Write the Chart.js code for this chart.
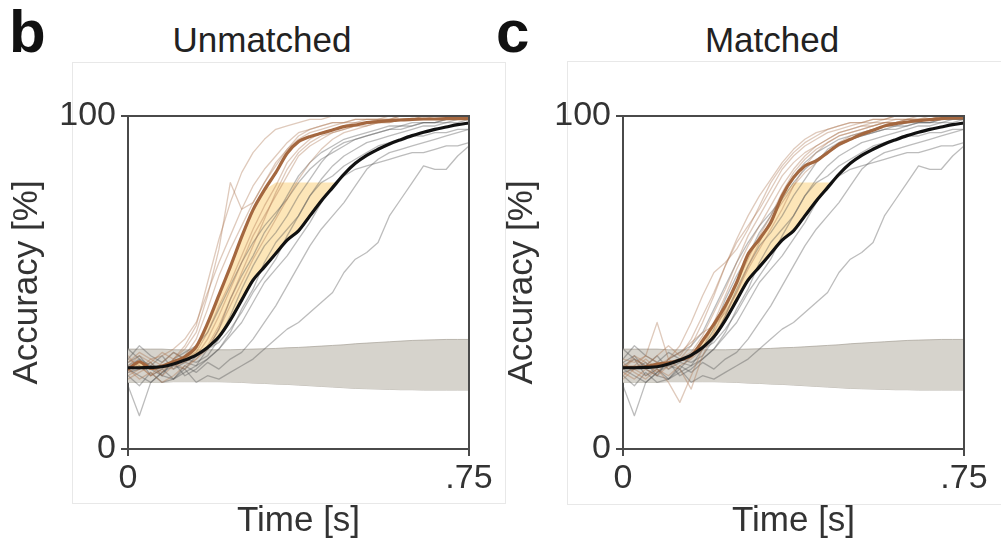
<!DOCTYPE html>
<html lang="en">
<head>
<meta charset="utf-8">
<title>Accuracy over time</title>
<script src="https://cdn.jsdelivr.net/npm/chart.js@4.4.1/dist/chart.umd.min.js"></script>
<style>
  body { margin: 0; background: #fff; width: 1001px; height: 542px; overflow: hidden; position: relative;
         font-family: "Liberation Sans", Arial, sans-serif; color: #222; }
  .frame { position: absolute; border: 1px solid #e8e8e8; }
  .letter { position: absolute; font-weight: bold; font-size: 60px; line-height: 1; color: #111; }
  .ptitle { position: absolute; font-size: 35px; line-height: 1; color: #222; transform: translateX(-50%); white-space: nowrap; }
  canvas { position: absolute; top: 0; }
</style>
</head>
<body>

<div class="frame" style="left:72px; top:62px; width:432px; height:440px;"></div>
<div class="frame" style="left:567px; top:61px; width:450px; height:442px;"></div>

<div class="letter" style="left:9px; top:2px;">b</div>
<div class="ptitle" style="left:262px; top:22px;">Unmatched</div>
<div class="letter" style="left:496px; top:2px;">c</div>
<div class="ptitle" style="left:772px; top:22px;">Matched</div>

<canvas id="chartB" width="500" height="542" style="left:0px;"></canvas>
<canvas id="chartC" width="506" height="542" style="left:495px;"></canvas>

<script>
// time axis, seconds
var time = [0, .025, .05, .075, .1, .125, .15, .175, .2, .225, .25, .275, .3, .325, .35, .375,
            .4, .425, .45, .475, .5, .525, .55, .575, .6, .625, .65, .675, .7, .725, .75];

var xTickValues = [0, 0.75];
var xTickLabels = ['0', '.75'];
var yTickValues = [0, 100];
var yellowCap = 80;

// model mean (black), same in both panels
var modelMean = [24.4, 24.4, 24.5, 24.7, 25.5, 26.7, 28.2, 30.5, 33.7, 38.7, 44.7, 50.7, 54.7, 58.7, 62.7, 65.5,
                 70, 74.5, 78.5, 82.5, 85.8, 88.2, 90, 91.6, 92.9, 94.1, 95.1, 96, 96.7, 97.4, 97.9];

// human means (brown)
var humanUnmatched = [24, 26.2, 24.2, 24.9, 26.2, 27.7, 30.7, 37.7, 46.2, 54.7, 63.7, 71.8, 77.8, 83, 88.8, 92.3,
                      93.8, 94.8, 95.8, 96.8, 97.3, 98, 98.3, 98.6, 98.8, 99, 99.1, 99.1, 99.2, 99.2, 99.2];
var humanMatched = [24.5, 24.5, 24.7, 25.5, 25.9, 26.7, 28, 32.5, 37.5, 43, 50, 58.5, 63, 68, 76, 81.5,
                    85, 86.5, 89, 91.5, 93, 94.5, 95.7, 97, 97.7, 98.2, 98.6, 98.9, 99.2, 99.4, 99.5];

// chance band
var bandTop = [30, 30, 30, 30, 29.8, 29.8, 29.8, 29.8, 29.8, 29.8, 29.9, 30, 30.1, 30.2, 30.4, 30.5,
               30.7, 30.9, 31.1, 31.3, 31.6, 31.8, 32, 32.2, 32.4, 32.6, 32.7, 32.8, 32.9, 32.9, 32.9];
var bandBottom = [20, 20, 20, 20, 20.2, 20.2, 20.2, 20.2, 20.2, 20.1, 20, 19.8, 19.7, 19.5, 19.4, 19.2,
                  19, 18.8, 18.6, 18.4, 18.2, 18.1, 18, 17.9, 17.8, 17.8, 17.7, 17.7, 17.7, 17.7, 17.7];

// single model runs (grey), same in both panels
var modelRun1 = [22, 19, 23, 20, 21, 24, 20, 22, 21, 23, 25, 27, 30, 33, 36, 38, 41, 44, 47, 53, 57, 59, 62, 70, 75, 80, 85, 84, 84, 88, 91];
var modelRun2 = [25, 27, 22, 24, 21, 25, 23, 26, 24, 27, 29, 33, 38, 43, 49, 55, 61, 66, 70, 74, 79, 84, 87, 89, 90, 91, 92, 93, 94, 95, 96];
var modelRun3 = [19, 10, 20, 23, 26, 22, 24, 27, 30, 35, 42, 48, 56, 62, 66, 70, 76, 81, 85, 88, 90, 92, 93, 94, 95, 96, 97, 97, 98, 98, 99];
var modelRun4 = [26, 28, 24, 22, 27, 29, 31, 35, 42, 49, 56, 62, 67, 71, 75, 80, 84, 87, 89, 91, 93, 94, 95, 96, 97, 97, 98, 98, 99, 99, 99];
var modelRun5 = [30, 27, 25, 28, 24, 26, 25, 30, 36, 45, 52, 58, 65, 70, 76, 82, 86, 89, 91, 93, 94, 95, 96, 97, 97, 98, 98, 98, 99, 99, 99];
var modelRun6 = [23, 24, 26, 22, 21, 23, 25, 27, 30, 34, 38, 44, 50, 54, 58, 63, 68, 74, 79, 82, 84, 85, 86, 87, 88, 89, 89, 90, 91, 91, 92];
var modelRun7 = [24, 22, 20, 23, 25, 24, 28, 30, 32, 36, 41, 47, 52, 57, 64, 70, 76, 80, 82, 85, 87, 89, 91, 92, 93, 94, 94, 95, 95, 96, 96];
var modelRun8 = [27, 31, 28, 26, 29, 27, 26, 28, 33, 40, 48, 55, 61, 65, 70, 76, 81, 86, 90, 92, 93, 94, 95, 96, 96, 97, 98, 98, 98, 99, 99];

// single subjects, unmatched (light brown)
var subjU1 = [25, 28, 26, 23, 27, 30, 35, 46, 60, 80, 72, 74, 80, 86, 90, 93, 95, 96, 97, 98, 98, 99, 99, 99, 100, 100, 100, 100, 100, 100, 100];
var subjU2 = [22, 24, 27, 25, 24, 28, 33, 42, 52, 60, 67, 74, 80, 85, 90, 94, 96, 97, 98, 98, 99, 99, 99, 100, 100, 100, 100, 100, 100, 100, 100];
var subjU3 = [27, 25, 22, 26, 29, 27, 29, 35, 43, 50, 58, 66, 73, 79, 86, 90, 93, 95, 96, 97, 98, 98, 99, 99, 99, 99, 100, 100, 100, 100, 100];
var subjU4 = [21, 23, 25, 22, 25, 26, 28, 33, 40, 48, 56, 64, 70, 76, 82, 88, 91, 93, 95, 96, 97, 97, 98, 98, 99, 99, 99, 99, 99, 100, 100];
var subjU5 = [26, 29, 27, 28, 30, 33, 38, 47, 56, 64, 72, 79, 84, 88, 92, 95, 96, 97, 98, 98, 99, 99, 99, 99, 100, 100, 100, 100, 100, 100, 100];
var subjU6 = [24, 21, 23, 20, 22, 25, 27, 31, 37, 45, 53, 61, 69, 77, 84, 89, 92, 94, 95, 96, 97, 98, 98, 99, 99, 99, 100, 100, 100, 100, 100];
var subjU7 = [23, 25, 22, 24, 26, 24, 27, 30, 36, 43, 50, 57, 63, 69, 75, 81, 86, 90, 93, 95, 96, 97, 98, 98, 99, 99, 99, 100, 100, 100, 100];
var subjU8 = [28, 24, 26, 29, 27, 31, 37, 50, 63, 74, 83, 89, 93, 96, 97, 98, 99, 99, 100, 100, 100, 100, 100, 100, 100, 100, 100, 100, 100, 100, 100];

// single subjects, matched (light brown)
var subjM1 = [22, 25, 28, 38, 27, 24, 18, 28, 35, 42, 50, 57, 64, 70, 77, 83, 87, 90, 92, 94, 95, 96, 97, 98, 98, 99, 99, 99, 100, 100, 100];
var subjM2 = [26, 23, 21, 24, 20, 14, 22, 30, 38, 46, 54, 61, 67, 73, 79, 84, 88, 91, 93, 95, 96, 97, 98, 98, 99, 99, 99, 100, 100, 100, 100];
var subjM3 = [24, 27, 25, 28, 31, 28, 33, 40, 47, 55, 62, 67, 72, 78, 84, 88, 91, 93, 95, 96, 97, 98, 98, 99, 99, 99, 100, 100, 100, 100, 100];
var subjM4 = [23, 21, 24, 22, 25, 27, 29, 34, 41, 48, 56, 64, 70, 76, 82, 86, 89, 91, 93, 95, 96, 97, 97, 98, 98, 99, 99, 99, 99, 100, 100];
var subjM5 = [25, 24, 22, 25, 27, 29, 32, 35, 37, 41, 47, 55, 62, 69, 74, 79, 83, 86, 89, 92, 94, 95, 96, 97, 98, 98, 99, 99, 99, 99, 99];
var subjM6 = [27, 26, 28, 26, 24, 27, 31, 38, 46, 55, 63, 70, 76, 81, 86, 90, 93, 95, 96, 97, 98, 98, 99, 99, 100, 100, 100, 100, 100, 100, 100];
var subjM7 = [24, 28, 26, 23, 27, 31, 38, 46, 53, 56, 60, 66, 73, 80, 85, 89, 92, 94, 96, 97, 98, 98, 99, 99, 100, 100, 100, 100, 100, 100, 100];
var subjM8 = [21, 24, 27, 24, 22, 25, 27, 30, 34, 40, 47, 54, 60, 66, 72, 79, 85, 89, 92, 94, 95, 96, 97, 98, 98, 99, 99, 99, 100, 100, 100];

var modelRuns = [modelRun1, modelRun2, modelRun3, modelRun4, modelRun5, modelRun6, modelRun7, modelRun8];

var AXIS = '#4a4a4a';
var FONT = '"Liberation Sans", Arial, sans-serif';

// top and right sides of the axes box
var boxPlugin = {
  id: 'box',
  afterDatasetsDraw: function(chart) {
    var a = chart.chartArea, ctx = chart.ctx;
    ctx.save();
    ctx.strokeStyle = AXIS;
    ctx.lineWidth = 2;
    ctx.beginPath();
    ctx.moveTo(a.left, a.top);
    ctx.lineTo(a.right, a.top);
    ctx.lineTo(a.right, a.bottom);
    ctx.stroke();
    ctx.restore();
  }
};

function makePanel(id, humanMean, subjects, rightPad) {
  var ds = [];
  // 0: black mean, drawn on top
  ds.push({ data: modelMean, borderColor: '#111', borderWidth: 3.2, tension: 0.3, order: 0 });
  // 1: brown mean
  ds.push({ data: humanMean, borderColor: '#a4673f', borderWidth: 3.2, tension: 0.25, order: 1 });
  subjects.forEach(function(s) {
    ds.push({ data: s, borderColor: 'rgba(170,115,80,0.38)', borderWidth: 1.3, order: 3 });
  });
  modelRuns.forEach(function(s) {
    ds.push({ data: s, borderColor: 'rgba(80,80,80,0.38)', borderWidth: 1.3, order: 4 });
  });
  // yellow gap between the two means, capped
  ds.push({
    data: humanMean.map(function(v) { return Math.min(v, yellowCap); }),
    borderWidth: 0, borderColor: 'transparent', order: 5,
    fill: { target: 0, above: 'rgba(251,214,140,0.62)', below: 'rgba(0,0,0,0)' }
  });
  var bottomIdx = ds.length;
  ds.push({ data: bandBottom, borderColor: 'rgba(165,160,150,0.7)', borderWidth: 1, order: 7 });
  ds.push({ data: bandTop, borderColor: 'rgba(165,160,150,0.7)', borderWidth: 1, order: 6,
            fill: { target: bottomIdx, above: 'rgba(214,211,204,1)', below: 'rgba(214,211,204,1)' } });

  return new Chart(document.getElementById(id), {
    type: 'line',
    data: { labels: time, datasets: ds },
    options: {
      responsive: false,
      animation: false,
      devicePixelRatio: 1,
      layout: { padding: { top: 116, right: rightPad, bottom: 0, left: 0 } },
      elements: { point: { radius: 0 }, line: { borderJoinStyle: 'round', borderCapStyle: 'round' } },
      plugins: { legend: { display: false }, tooltip: { enabled: false } },
      scales: {
        x: {
          type: 'linear', min: 0, max: 0.75,
          afterBuildTicks: function(ax) { ax.ticks = xTickValues.map(function(v) { return { value: v }; }); },
          afterFit: function(ax) { ax.height = 93; },
          ticks: {
            autoSkip: false, maxRotation: 0, padding: 2, color: '#333',
            font: { family: FONT, size: 34 },
            callback: function(v) { return xTickLabels[xTickValues.indexOf(v)]; }
          },
          grid: { drawOnChartArea: false, drawTicks: true, tickLength: 7, color: AXIS, lineWidth: 2 },
          border: { display: true, color: AXIS, width: 2 },
          title: { display: true, text: 'Time [s]', color: '#333', font: { family: FONT, size: 35 }, padding: { top: 0, bottom: 0 } }
        },
        y: {
          min: 0, max: 100,
          afterBuildTicks: function(ax) { ax.ticks = yTickValues.map(function(v) { return { value: v }; }); },
          afterFit: function(ax) { ax.width = 128; },
          ticks: { autoSkip: false, padding: 5, color: '#333', font: { family: FONT, size: 34 } },
          grid: { drawOnChartArea: false, drawTicks: true, tickLength: 7, color: AXIS, lineWidth: 2 },
          border: { display: true, color: AXIS, width: 2 },
          title: { display: true, text: 'Accuracy [%]', color: '#333', font: { family: FONT, size: 35 }, padding: { top: 6, bottom: 0 } }
        }
      }
    },
    plugins: [boxPlugin]
  });
}

makePanel('chartB', humanUnmatched, [subjU1, subjU2, subjU3, subjU4, subjU5, subjU6, subjU7, subjU8], 31);
makePanel('chartC', humanMatched, [subjM1, subjM2, subjM3, subjM4, subjM5, subjM6, subjM7, subjM8], 37);
</script>
</body>
</html>
